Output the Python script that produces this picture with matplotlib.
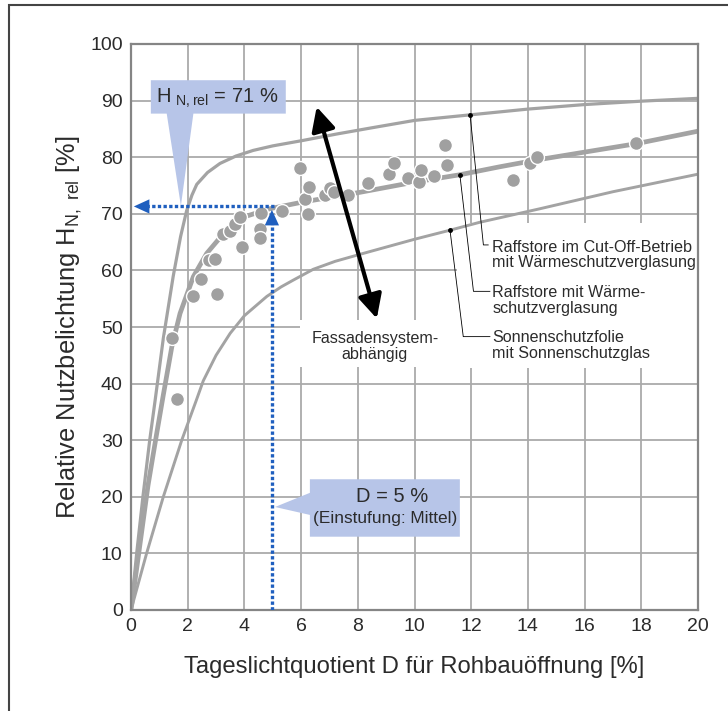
import matplotlib
matplotlib.use("Agg")
import matplotlib.pyplot as plt
from matplotlib.patches import Polygon, Rectangle, FancyArrowPatch

plt.rcParams['font.family'] = ['Liberation Sans', 'DejaVu Sans']
plt.rcParams['mathtext.default'] = 'regular'

# curves
top_x = [0, 0.2, 0.42, 0.66, 0.85, 1.14, 1.49, 1.75, 1.96, 2.15, 2.32, 2.7, 3.14, 3.7, 4.31, 5.0, 6.0, 7.26, 8.5, 10, 12, 14, 16, 18, 20]
top_y = [0, 10, 20, 30, 37, 48, 59, 66, 70.5, 73.3, 75.2, 77.3, 78.9, 80.2, 81.2, 82.0, 82.9, 84.1, 85.2, 86.5, 87.5, 88.5, 89.3, 89.9, 90.4]

mid_x = [0, 0.3, 0.6, 0.9, 1.14, 1.44, 1.73, 2.2, 2.67, 3.38, 4.08, 4.9, 6.08, 8.08, 10, 11.6, 13, 14.3, 16, 17.84, 20]
mid_y = [0, 11, 22, 31, 38, 46.5, 52.4, 58.9, 63, 67.2, 69.6, 70.9, 72.1, 73.8, 75.6, 76.9, 78.3, 79.5, 80.9, 82.4, 84.6]

low_x = [0, 0.55, 1.14, 1.79, 2.3, 2.55, 3.0, 3.5, 4.0, 4.79, 5.3, 5.73, 6.43, 7.2, 8.19, 10, 11.25, 12.3, 14.43, 17, 20]
low_y = [0, 10, 20, 30, 37, 40.5, 45, 48.9, 52, 55.4, 57.1, 58.3, 60.2, 61.6, 63, 65.5, 67.1, 68.5, 70.9, 73.9, 77]

# measured points
pts_x = [1.44, 1.63, 2.2, 2.46, 2.76, 2.96, 3.02, 3.26, 3.49, 3.67, 3.84, 3.9, 4.55, 4.55, 4.6,
         5.31, 5.96, 6.14, 6.25, 6.29, 6.84, 7.02, 7.16, 7.64, 8.35, 9.11, 9.29, 9.78, 10.17,
         10.23, 10.69, 11.08, 11.16, 13.49, 14.07, 14.31, 17.81]
pts_y = [48.0, 37.2, 55.4, 58.5, 61.8, 62.1, 55.8, 66.5, 67.0, 68.2, 69.5, 64.2, 67.4, 65.8, 70.2,
         70.5, 78.1, 72.7, 70.0, 74.8, 73.3, 74.5, 73.9, 73.3, 75.4, 77.0, 78.9, 76.3, 75.7,
         77.7, 76.6, 82.2, 78.6, 76.0, 78.9, 80.0, 82.5]

labels = ["Raffstore im Cut-Off-Betrieb\nmit Wärmeschutzverglasung",
          "Raffstore mit Wärme-\nschutzverglasung",
          "Sonnenschutzfolie\nmit Sonnenschutzglas"]

grey = "#a3a3a3"
blue = "#1f5fbf"
callout = "#b7c5e8"
txt = "#2b2b2b"

fig = plt.figure(figsize=(7.28, 7.11), dpi=100)
ax = fig.add_axes([131/728, 101/711, 567/728, 566/711])

# outer frame
fig.patches.append(Rectangle((9/728, -0.1), 1.5, (706/711) + 0.1, transform=fig.transFigure,
                             fill=False, edgecolor="#444444", lw=1.5))

ax.set_xlim(0, 20)
ax.set_ylim(0, 100)
ax.set_xticks(range(0, 21, 2))
ax.set_yticks(range(0, 101, 10))
ax.set_axisbelow(True)
ax.grid(True, color="#aaaaaa", lw=1.3)
for s in ax.spines.values():
    s.set_color("#858585")
    s.set_linewidth(1.6)
ax.tick_params(length=0, labelsize=14, labelcolor=txt, pad=6)

# white areas behind the labels
ax.add_patch(Rectangle((11.5, 42.8), 8.5, 25.6, facecolor="white", edgecolor="none", zorder=1))
ax.add_patch(Rectangle((5.95, 43.0), 5.6, 8.2, facecolor="white", edgecolor="none", zorder=1))

ax.plot(top_x, top_y, color=grey, lw=2.3, zorder=2, solid_capstyle="round")
ax.plot(mid_x, mid_y, color=grey, lw=3.4, zorder=2, solid_capstyle="round")
ax.plot(low_x, low_y, color=grey, lw=2.1, zorder=2, solid_capstyle="round")

ax.scatter(pts_x, pts_y, s=100, color="#a0a0a0", edgecolors="white", linewidths=1.0, zorder=3)

# leader lines
ax.plot([11.96, 12.43, 12.6], [87.5, 64.5, 64.5], color="k", lw=0.6, zorder=4)
ax.plot([11.6, 12.08, 12.66], [76.9, 56.3, 56.3], color="k", lw=0.6, zorder=4)
ax.plot([11.25, 11.72, 12.66], [67.2, 48.3, 48.3], color="k", lw=0.6, zorder=4)
ax.plot([11.96, 11.6, 11.25], [87.5, 76.9, 67.2], "o", color="k", ms=2.5, zorder=4)

for lab, yy in zip(labels, [62.7, 54.7, 46.7]):
    ax.text(12.75, yy, lab, fontsize=11.6, color=txt, va="center", ha="left", linespacing=1.05, zorder=5)

ax.text(8.6, 46.6, "Fassadensystem-\nabhängig", fontsize=11.6, color=txt, ha="center", va="center",
        linespacing=1.05, zorder=5)

# black double arrow
ax.add_patch(FancyArrowPatch((6.55, 88.9), (8.67, 51.5), arrowstyle="<|-|>,head_length=0.9,head_width=0.45",
                             mutation_scale=16, color="k", lw=3, shrinkA=0, shrinkB=0, zorder=6))

# blue dotted arrows
ax.plot([5.05, 0.5], [71.3, 71.3], color=blue, lw=2.4, ls=(0, (1, 0.7)), zorder=5)
ax.plot([4.97, 4.97], [0, 68.5], color=blue, lw=2.4, ls=(0, (1, 0.7)), zorder=5)
ax.add_patch(FancyArrowPatch((0.7, 71.3), (0.1, 71.3), arrowstyle="-|>,head_length=0.7,head_width=0.32",
                             mutation_scale=16, color=blue, lw=0, shrinkA=0, shrinkB=0, zorder=6))
ax.add_patch(FancyArrowPatch((4.97, 67.5), (4.97, 70.7), arrowstyle="-|>,head_length=0.7,head_width=0.32",
                             mutation_scale=16, color=blue, lw=0, shrinkA=0, shrinkB=0, zorder=6))

# callouts
ax.add_patch(Polygon([(0.70, 93.6), (5.46, 93.6), (5.46, 87.7), (2.2, 87.7), (1.76, 71.4),
                      (1.26, 87.7), (0.70, 87.7)], closed=True, facecolor=callout, edgecolor="none", zorder=5))
ax.text(0.88, 90.4, r"H$_{\ N,rel}$ = 71 %", fontsize=14.5, color=txt, va="center", ha="left", zorder=6)

ax.add_patch(Polygon([(6.31, 23.1), (11.6, 23.1), (11.6, 12.95), (6.31, 12.95), (6.31, 16.8),
                      (5.08, 18.2), (6.31, 20.7)], closed=True, facecolor=callout, edgecolor="none", zorder=5))
ax.text(9.2, 20.0, "D = 5 %", fontsize=14.5, color=txt, va="center", ha="center", zorder=6)
ax.text(8.95, 16.1, "(Einstufung: Mittel)", fontsize=12.4, color=txt, va="center", ha="center", zorder=6)

ax.set_xlabel("Tageslichtquotient D für Rohbauöffnung [%]", fontsize=17.2, color=txt, labelpad=15)
ax.set_ylabel(r"Relative Nutzbelichtung H$_{N,\ rel}$ [%]", fontsize=18.3, color=txt, labelpad=4)

fig.savefig("out.png", dpi=100)
